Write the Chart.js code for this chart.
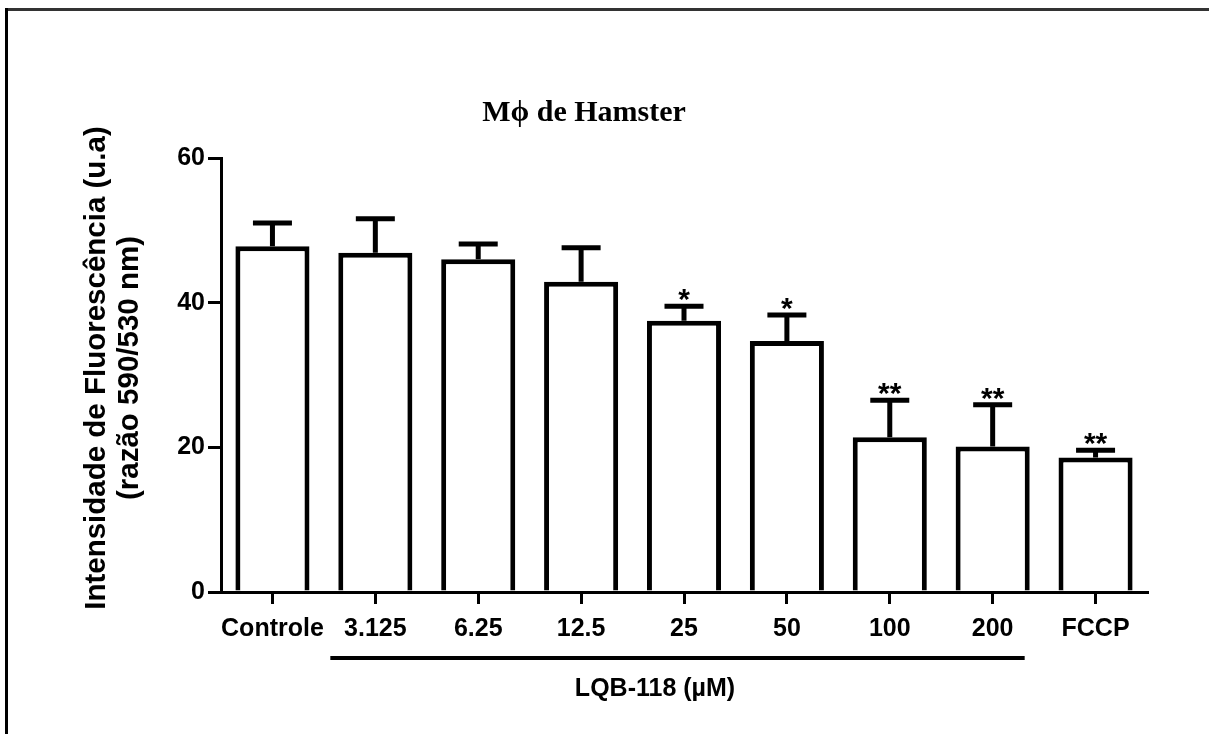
<!DOCTYPE html>
<html>
<head>
<meta charset="utf-8">
<script src="https://cdn.jsdelivr.net/npm/chart.js@4.4.0/dist/chart.umd.min.js"></script>
<style>
  html, body { margin: 0; padding: 0; background: #fff; }
  canvas { display: block; }
</style>
</head>
<body>
<canvas id="myChart" width="1209" height="734"></canvas>
<script>
// groups on the x axis and the measured means with their upper error
const groups = ['Controle', '3.125', '6.25', '12.5', '25', '50', '100', '200', 'FCCP']
const means = [47.8, 46.9, 46.0, 42.9, 37.5, 34.7, 21.4, 20.1, 18.6]
const errors = [3.2, 4.7, 2.1, 4.7, 2.0, 3.6, 5.1, 5.8, 1.0]
const marks = ['', '', '', '', '*', '*', '**', '**', '**']
const yTicks = [0, 20, 40, 60]

const labelFont = '"Liberation Sans", Arial, sans-serif'

const extras = {
    id: 'extras',
    beforeDraw(chart) {
        let ctx = chart.ctx
        ctx.save()
        ctx.fillStyle = '#fff'
        ctx.fillRect(0, 0, chart.width, chart.height)
        // page frame
        ctx.fillStyle = '#333'
        ctx.fillRect(5, 8, chart.width - 5, 3)
        ctx.fillStyle = '#000'
        ctx.fillRect(5, 8, 3, chart.height - 8)
        ctx.restore()
    },
    afterDatasetsDraw(chart) {
        let ctx = chart.ctx
        let x = chart.scales.x
        let y = chart.scales.y
        ctx.save()
        ctx.strokeStyle = '#000'
        ctx.fillStyle = '#000'
        ctx.lineWidth = 5
        ctx.lineCap = 'butt'
        for (let i = 0; i < means.length; i++) {
            let cx = x.getPixelForValue(i)
            let top = y.getPixelForValue(means[i])
            let cap = y.getPixelForValue(means[i] + errors[i])
            ctx.beginPath()
            ctx.moveTo(cx, top)
            ctx.lineTo(cx, cap)
            ctx.moveTo(cx - 19.5, cap)
            ctx.lineTo(cx + 19.5, cap)
            ctx.stroke()
            if (marks[i]) {
                ctx.font = 'bold 30px ' + labelFont
                ctx.textAlign = 'center'
                ctx.textBaseline = 'alphabetic'
                ctx.fillText(marks[i], cx, cap + 3)
            }
        }
        ctx.restore()
    },
    afterDraw(chart) {
        let ctx = chart.ctx
        let x = chart.scales.x
        ctx.save()
        ctx.fillStyle = '#000'
        ctx.textAlign = 'center'
        ctx.textBaseline = 'middle'

        ctx.font = 'bold 30px "Liberation Serif", "Times New Roman", serif'
        ctx.fillText('M\u03d5 de Hamster', 584, 113)

        // y axis title, two lines
        ctx.save()
        ctx.font = 'bold 29.5px ' + labelFont
        ctx.translate(97, 368)
        ctx.rotate(-Math.PI / 2)
        ctx.fillText('Intensidade de Fluorescência (u.a)', 0, 0)
        ctx.fillText('(razão 590/530 nm)', 0, 33)
        ctx.restore()

        // bracket under the LQB-118 doses
        let x0 = x.getPixelForValue(1) - 45
        let x1 = x.getPixelForValue(7) + 32
        ctx.fillRect(x0, 656, x1 - x0, 4)
        ctx.font = 'bold 25px ' + labelFont
        ctx.fillText('LQB-118 (µM)', 655, 689)
        ctx.restore()
    }
}

const ctx = document.getElementById('myChart')

new Chart(ctx, {
    type: 'bar',
    data: {
        labels: groups,
        datasets: [{
            data: means,
            backgroundColor: '#fff',
            borderColor: '#000',
            borderWidth: 5,
            barPercentage: 0.72,
            categoryPercentage: 1
        }]
    },
    options: {
        responsive: false,
        animation: false,
        layout: { padding: { left: 0, top: 158, right: 62, bottom: 0 } },
        plugins: {
            legend: { display: false },
            tooltip: { enabled: false }
        },
        scales: {
            x: {
                afterFit: s => { s.height = 142 },
                grid: {
                    display: true,
                    offset: false,
                    drawOnChartArea: false,
                    drawTicks: true,
                    tickLength: 12,
                    color: '#000',
                    lineWidth: 3
                },
                border: { display: true, color: '#000', width: 3 },
                ticks: {
                    color: '#000',
                    padding: 10,
                    maxRotation: 0,
                    autoSkip: false,
                    font: { family: labelFont, size: 25, weight: 'bold' }
                }
            },
            y: {
                min: 0,
                max: 60,
                afterFit: s => { s.width = 221 },
                afterBuildTicks: s => { s.ticks = yTicks.map(v => ({ value: v })) },
                grid: {
                    display: true,
                    drawOnChartArea: false,
                    drawTicks: true,
                    tickLength: 13,
                    color: '#000',
                    lineWidth: 3
                },
                border: { display: true, color: '#000', width: 3 },
                ticks: {
                    color: '#000',
                    padding: 3,
                    font: { family: labelFont, size: 25, weight: 'bold' }
                }
            }
        }
    },
    plugins: [extras]
});
</script>
</body>
</html>
